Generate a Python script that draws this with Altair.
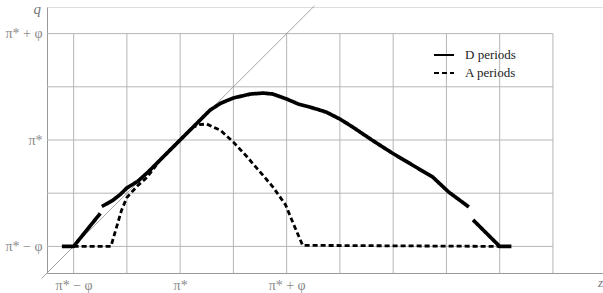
import altair as alt
import pandas as pd

# ---- data (units: pi* = 0, phi = 1) ----
d_u = [-1.11, -1.0, -0.75,
       -0.735, -0.63, -0.56, -0.50, -0.40, -0.30, -0.19, 0.0, 0.12, 0.28, 0.38, 0.50, 0.66,
       0.78, 0.87, 1.0, 1.11, 1.25, 1.37, 1.50, 1.62, 1.80, 1.99, 2.18, 2.37, 2.52, 2.71,
       2.75, 3.0, 3.11]
d_v = [-1.0, -1.0, -0.69,
       -0.625, -0.565, -0.51, -0.45, -0.39, -0.30, -0.19, 0.0, 0.12, 0.28, 0.345, 0.395, 0.432,
       0.441, 0.432, 0.385, 0.338, 0.30, 0.263, 0.197, 0.122, 0.0, -0.122, -0.235, -0.347, -0.488, -0.629,
       -0.751, -1.0, -1.0]
d_seg = [1, 1, 1] + [2] * 27 + [3, 3, 3]

a_u = [-1.0, -0.65, -0.55, -0.50, -0.40, -0.31, -0.19, 0.0, 0.12, 0.18, 0.25, 0.38, 0.50,
       0.63, 0.75, 0.87, 0.99, 1.06, 1.15, 3.0]
a_v = [-1.0, -1.0, -0.66, -0.54, -0.43, -0.35, -0.19, 0.0, 0.12, 0.145, 0.15, 0.09, -0.02,
       -0.16, -0.30, -0.44, -0.61, -0.78, -0.99, -1.0]

series_names = ["D periods", "A periods"]
tick_values = [-1, 0, 1]
tick_labels = ["π* − φ", "π*", "π* + φ"]
grid_x = [-1.0, -0.5, 0.0, 0.5, 1.0, 1.5, 2.0, 2.5, 3.0, 3.5]
grid_y = [-1.0, -0.5, 0.0, 0.5, 1.0]
diag = [-1.3, 1.26]

X_DOM = [-1.25, 3.97]
Y_DOM = [-1.25, 1.25]

rows = []
for u, v, s in zip(d_u, d_v, d_seg):
    rows.append({"u": u, "v": v, "series": series_names[0], "seg": f"D{s}", "w": 3.7})
for u, v in zip(a_u, a_v):
    rows.append({"u": u, "v": v, "series": series_names[1], "seg": "A", "w": 2.8})
df = pd.DataFrame(rows)

xs = alt.Scale(domain=X_DOM, nice=False, zero=False)
ys = alt.Scale(domain=Y_DOM, nice=False, zero=False)

expr = " : ".join(f"datum.value == {v} ? '{l}'" for v, l in zip(tick_values, tick_labels)) + " : ''"

gx = pd.DataFrame({"u": grid_x, "v0": Y_DOM[0], "v1": grid_y[-1]})
gy = pd.DataFrame({"v": grid_y, "u0": X_DOM[0], "u1": grid_x[-1]})
GRID = "#b5b5b5"
LAB = "#8a8a8a"


def ax():
    return alt.Axis(values=tick_values, labelExpr=expr, ticks=False, grid=False,
                    domainColor="#999", title=None, labelFont="Liberation Serif",
                    labelFontSize=14, labelColor=LAB, labelPadding=5,
                    labelOverlap=False)


vgrid = alt.Chart(gx).mark_rule(color=GRID, strokeWidth=1).encode(
    x=alt.X("u:Q", scale=xs, axis=ax()),
    y=alt.Y("v0:Q", scale=ys, axis=ax()),
    y2="v1:Q",
)
hgrid = alt.Chart(gy).mark_rule(color=GRID, strokeWidth=1).encode(
    y=alt.Y("v:Q", scale=ys), x=alt.X("u0:Q", scale=xs), x2="u1:Q"
)
diag_line = alt.Chart(pd.DataFrame({"u": diag, "v": diag})).mark_line(
    color="#999", strokeWidth=0.9).encode(
    x=alt.X("u:Q", scale=xs), y=alt.Y("v:Q", scale=ys))

lines = alt.Chart(df).mark_line(color="black", strokeCap="butt", strokeJoin="round").encode(
    x=alt.X("u:Q", scale=xs),
    y=alt.Y("v:Q", scale=ys),
    detail="seg:N",
    strokeWidth=alt.StrokeWidth("w:Q", scale=None, legend=None),
    strokeDash=alt.StrokeDash(
        "series:N",
        scale=alt.Scale(domain=series_names, range=[[1, 0], [5, 3]]),
        legend=alt.Legend(title=None, orient="none", legendX=386, legendY=37,
                          symbolType="stroke", symbolStrokeColor="black",
                          symbolStrokeWidth=2, symbolSize=400,
                          labelFont="Liberation Serif", labelFontSize=13,
                          labelColor="#222", rowPadding=-6, labelOffset=10),
    ),
)

qlab = alt.Chart(pd.DataFrame({"u": [X_DOM[0]], "v": [Y_DOM[1]], "t": ["q"]})).mark_text(
    font="Liberation Serif", fontSize=15, fontStyle="italic", color="#777",
    align="right", baseline="middle", dx=-6, dy=2).encode(
    x=alt.X("u:Q", scale=xs), y=alt.Y("v:Q", scale=ys), text="t:N")
xlab = alt.Chart(pd.DataFrame({"u": [X_DOM[1]], "v": [Y_DOM[0]], "t": ["z"]})).mark_text(
    font="Liberation Serif", fontSize=13, fontStyle="italic", color="#777",
    align="right", baseline="middle", dx=0, dy=10).encode(
    x=alt.X("u:Q", scale=xs), y=alt.Y("v:Q", scale=ys), text="t:N")

chart = alt.layer(vgrid, hgrid, diag_line, lines, qlab, xlab).properties(
    width=556, height=266,
    autosize=alt.AutoSizeParams(type="none"),
    padding={"left": 47, "top": 7, "right": 0, "bottom": 20},
).configure_view(stroke=None).configure(background="white")

chart.save("out.html", embed_options={"renderer": "svg", "actions": False})
